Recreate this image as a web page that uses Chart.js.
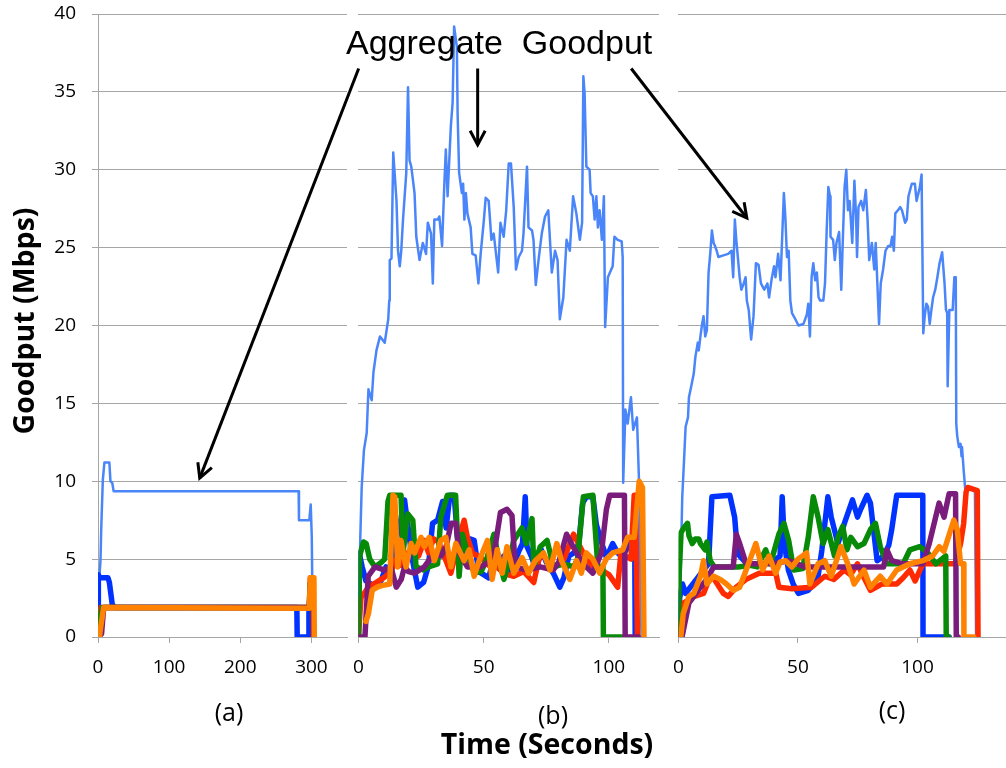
<!DOCTYPE html>
<html>
<head>
<meta charset="utf-8">
<style>
  body { margin: 0; width: 1006px; height: 768px; background: #fff; position: relative; overflow: hidden; }
  canvas { position: absolute; top: 0; }
  .lbl { position: absolute; white-space: pre; line-height: 1; color: #000; transform: translate(-50%, -50%); }
  .tick { font-family: "Open Sans"; font-size: 25px; }
  .title { font-family: "Open Sans"; font-weight: bold; font-size: 28.5px; }
  #callout { position: absolute; left: 346px; top: 25px; white-space: pre; line-height: 1; font-family: "Liberation Sans"; font-size: 34px; color: #000; }
  #arrows { position: absolute; left: 0; top: 0; }
</style>
</head>
<body>
<canvas id="panelA" width="350" height="700" style="left:0px"></canvas>
<canvas id="panelB" width="320" height="700" style="left:340px"></canvas>
<canvas id="panelC" width="346" height="700" style="left:660px"></canvas>
<svg id="arrows" width="1006" height="768"></svg>

<div id="callout">Aggregate  Goodput</div>
<div class="lbl title" style="left:22.5px; top:321px; transform:translate(-50%,-50%) rotate(-90deg)">Goodput (Mbps)</div>
<div class="lbl title" style="left:547px; top:743px">Time (Seconds)</div>
<div class="lbl tick" style="left:229px; top:711px">(a)</div>
<div class="lbl tick" style="left:553px; top:714px">(b)</div>
<div class="lbl tick" style="left:892px; top:709px">(c)</div>

<script src="https://cdn.jsdelivr.net/npm/chart.js@4"></script>
<script>
// [seconds, Mbps] samples per flow; "aggregate" is the sum line

// (a)
const aAggregate = [[0.5,0],[2,3.9],[3.5,4.9],[4.5,6.9],[6.8,10.1],[9,11.2],[16,11.2],[17.5,10],[20,9.9],[22,9.35],[282,9.35],[282.5,7.5],[297,7.5],[299,8.5],[300.5,6.4],[302,0]];
const aBlue = [[0,0],[0.5,4],[2,3.8],[14,3.8],[16,3.5],[20,2.1],[23,1.9],[279.5,1.9],[280,0],[296,0],[296.5,1.9],[299,1.9],[300,0]];
const aRed = [[1,0],[2,1],[4,1.9],[297,1.9],[298.5,3.8],[302,3.8],[303,0]];
const aGreen = [[0,0],[3,1.2],[6,1.9],[297,1.9],[298,3.4],[301,3.4],[302,0]];
const aPurple = [[0,0],[5,0.2],[8,1.9],[297,1.9],[299,3.6],[301,3.6],[302,0]];
const aOrange = [[2,0],[3,0.4],[5,1],[8,1.9],[297,1.85],[298.5,3.8],[303.5,3.8],[304,0]];

// (b)
const bAggregate = [[0,0],[0.5,5],[1.3,9.6],[2.2,12],[3.3,13.1],[4,15.9],[5.3,15.2],[6,17],[7.2,18.4],[8.6,19.3],[10.5,18.9],[11.9,20.4],[12.3,21.6],[12.5,24.2],[13.2,24.3],[13.9,31.1],[15.2,28],[15.8,24.8],[16.5,23.8],[17.1,24.8],[17.8,26.8],[19.1,29.8],[19.8,35.3],[20.4,30.6],[21.1,30.2],[22.4,28.5],[23.1,25.7],[24.4,24.2],[25.7,25.3],[27,24.6],[27.7,26.6],[29,25.9],[29.7,22.7],[30.3,26.8],[31.7,26.8],[32.3,27],[33.4,25.1],[34.3,29.1],[34.9,31.3],[35.6,28.3],[36.9,32.8],[37.6,34.3],[38.2,39.2],[39.3,37.9],[39.6,33.6],[40.2,29.8],[41.3,28.5],[41.8,29.1],[42.3,26.8],[42.9,28.5],[43.5,27.2],[44.8,26.3],[45.5,24.6],[46.8,24.5],[47.9,22.7],[48.8,24.6],[50.1,26.8],[50.8,28.2],[52,28],[53.1,25.5],[54,25.9],[55.8,23.4],[56.7,26.6],[58,25.7],[59,27.4],[60,30.4],[60.9,30.4],[62,27.6],[62.9,23.6],[64,24.4],[65.3,24.8],[65.9,25.9],[67.3,30.2],[67.9,26.3],[69.3,26.1],[69.9,25.5],[70.8,22.6],[71.9,24.2],[73.2,25.9],[74.5,27],[75.8,27.4],[77.2,23.4],[78.5,24.8],[79.5,24.2],[80.4,20.4],[81.8,21.8],[83.1,25.5],[84.4,24.8],[85.7,28.3],[87,27.2],[88.4,25.5],[89.3,26.6],[89.8,36],[90.3,34.9],[91,30.2],[92.3,30],[92.7,28.5],[93.6,28.3],[94.3,26.8],[95,28.3],[95.6,26.3],[96.3,27.4],[97.2,25.5],[98,28.3],[98.5,19.9],[99.6,23.1],[101.5,23.8],[102.2,25.7],[103.5,25.5],[105.1,25.4],[105.5,24.4],[105.7,9.9],[106.6,14.6],[107.5,13.7],[108.8,15.4],[109.7,13.3],[111.2,14.1],[112.1,9.6],[112.8,1.5],[113,0]];
const bBlue = [[0,0],[0.3,5.4],[1.5,4.5],[3,3.6],[6,3.3],[9,3.6],[11,4.5],[13,4.3],[15,6.2],[17,7.6],[18.4,8.8],[20,6.8],[21.5,5],[23.7,3.2],[26,3.5],[28,4.6],[29.6,7.3],[31.6,7.5],[33.6,8.7],[35,7],[36.5,9.1],[38.2,9.1],[39.5,6.5],[41,5.6],[43,5],[44.5,6.3],[46.2,6.2],[48,4.2],[50,4],[52,3.8],[54,5],[56,4.4],[58,5.2],[60,4],[62,4.6],[64,5.5],[65.5,6],[66.6,9],[67.3,5.8],[69,5.2],[71,4.3],[73,5.6],[75,4.8],[77.8,4.1],[80.4,3.2],[82,3.8],[84,5.2],[86,5.4],[88,6],[89.5,8.6],[91,9],[93.6,9],[95,7.2],[97.6,5.8],[99,5.1],[101.5,6],[103.5,5.4],[105,5.2],[107,5.6],[109,6.4],[110.3,6.4],[110.5,0]];
const bRed = [[0,0],[1,2.5],[4,3.2],[7,3.5],[10,3.8],[13,4.2],[15,5],[17,4.6],[19.8,5.4],[22,5.8],[24,5.2],[26.3,6.2],[28,5.4],[30,6.3],[32,6.1],[34,5.3],[36.9,4.1],[39,5.5],[41,6.8],[42.2,7.5],[43.5,6.4],[45.5,5.4],[48.8,5.1],[52,4.6],[55.4,4.5],[58,4.1],[62,3.9],[66,4.2],[70,3.5],[72.6,5.4],[75,5],[78,4.5],[82,5],[85.9,6.6],[88.5,5.8],[91,5],[94,4.5],[97,4.3],[100,4],[103.5,3.2],[104.8,5.4],[106.5,5.2],[108.8,5],[110.1,9.1],[110.7,9.1],[111.4,0]];
const bGreen = [[0,0],[0.5,5.2],[2,6.1],[3.1,6],[4.5,5],[6.6,4.5],[9.2,4.8],[10.5,5],[11.8,8.7],[12.5,9.1],[17,9.1],[17.8,5.4],[19.7,7.9],[21.7,7.5],[23,4.5],[26,4.3],[28,4.5],[31.6,4.7],[32.9,7.7],[35.5,9.1],[38.8,9.1],[40.2,3.9],[41.5,6.6],[43.5,5.4],[46.2,4.1],[49,4.2],[51,4.9],[54.1,6.6],[56,5],[58.1,3.7],[60,4.8],[62,6.2],[65.3,7],[67,6],[69.3,7.6],[70,4.5],[72.6,5.8],[75.3,6.2],[77.9,4.5],[82,4.7],[85.9,4.5],[87.5,5],[89.8,9],[93.6,9.1],[95.6,4.5],[97.6,4.5],[97.8,0],[106,0]];
const bPurple = [[0,0],[2.6,0],[3.9,3.9],[6.6,4.5],[10.5,4.3],[13,4.5],[15.1,3.2],[17.1,3.7],[18.4,4.5],[20,4.2],[22.4,4.1],[26.3,4.5],[30.3,5.4],[33,5.2],[35,5.8],[37,7.3],[38.9,7.3],[40.2,5.4],[43.5,4.5],[48.8,4.5],[52,4.8],[54,5.2],[56.7,8],[59.3,8.2],[61.3,7.8],[62.6,4.5],[67.3,4.3],[72.6,4.5],[77.8,4.3],[80,4.8],[83.1,6.6],[85.7,5.8],[89.7,4.7],[93.6,4.1],[97,5.4],[99,8.2],[100.3,9.1],[106.2,9.1],[106.5,0],[111.7,0]];
const bOrange = [[3,1],[4,1.5],[5.5,3],[7.5,3.2],[9.2,3.3],[12.5,3.4],[13.8,9.1],[14.5,9],[15.7,4.5],[17,6.2],[19,4.5],[21,6],[22.4,5.4],[25,6.4],[26.3,5.8],[28.3,6.4],[30.3,4.9],[32.9,6.2],[34.9,6.4],[36.9,4.5],[38.9,6],[42.2,4.9],[44.2,5.6],[46.2,3.9],[48.2,4.9],[51.5,6.2],[53.4,3.7],[55.4,5.6],[57.4,4.1],[59.3,5.8],[62,4.1],[65.3,5.1],[67.9,4.1],[70.6,4.9],[73.9,5.4],[76.5,4.3],[79.2,6],[81.1,4.9],[84.4,3.7],[87.1,4.9],[89,4.1],[91,5.4],[93.6,5],[96.3,4.1],[98.9,5],[101.5,5.4],[105.5,5.6],[107.5,6.4],[110.1,6.4],[112.1,10],[113.4,9.6],[114,0]];

// (c)
const cAggregate = [[0,0],[0.4,0.4],[1.6,9],[2.3,11.2],[3,13.5],[4,14.1],[4.4,15.4],[5.1,15.9],[6.4,16.9],[7.1,18],[8.1,18.9],[8.5,18.4],[9.2,19.3],[9.9,20.1],[10.5,20.6],[11.2,19.3],[11.9,19.7],[12.6,23.4],[13.3,24.6],[14,26.1],[14.7,25.3],[15.3,25.1],[16,24.8],[16.7,24.4],[18.8,24.5],[20.8,24.6],[22.2,24.8],[22.9,23.1],[23.6,26.8],[24.2,25.5],[25.6,23.1],[26.3,22.3],[27.3,22.7],[28.1,23.1],[28.6,21.6],[29.4,21],[30.4,19.1],[31.4,20.6],[32.4,24],[33.5,23.9],[34.5,22.7],[35.9,22.3],[37.2,22.7],[37.9,21.8],[38.9,22.9],[40,23.8],[40.6,23.1],[41.7,24.6],[42.7,22.9],[44.1,28.5],[44.7,27],[45.4,24.4],[46.1,24.8],[46.8,21.6],[47.5,20.8],[48.9,20.4],[50.2,20],[52.3,20.1],[53.7,20.7],[54.3,21.4],[55,19.3],[55.7,23.1],[56.4,24],[57.2,22.9],[57.9,23.4],[58.6,21.8],[59.3,21.6],[60.6,21.6],[61.3,22.7],[62,26.1],[62.7,28.9],[63.4,28.3],[63.6,25.7],[64.7,25.5],[65.4,24.2],[66.1,25.3],[67.2,26],[68.1,22.3],[68.8,25.7],[69.5,28.9],[70.2,30],[70.9,27.4],[71.6,28],[72.7,25.3],[73.6,29.3],[74.3,27],[74.7,24.4],[75.3,27.6],[76.4,28],[77.3,27.4],[78.4,28.7],[79.1,26.8],[79.8,24.2],[80.9,25.3],[81.9,23.6],[82.5,25.3],[83.2,22.7],[83.9,20.1],[84.6,22.7],[85.6,23.6],[86.6,24.8],[87.7,25.1],[88.7,25.1],[89.4,25.7],[90.1,24.8],[90.7,27.2],[91.8,27.4],[92.8,27.6],[93.5,27.4],[94.8,26.6],[95.5,26.8],[96.2,28.3],[96.9,28.7],[97.6,29.1],[98.9,29.1],[99.6,28],[101,28.9],[101.7,29.7],[102.4,19.5],[103,20.6],[103.7,21.4],[104.4,21.2],[105.1,20.1],[105.8,21],[106.5,21.8],[107.4,22.3],[108.3,23.1],[109.2,24],[110.3,24.7],[111.3,22.7],[111.9,21],[112.4,20.8],[112.6,16.1],[113.3,21],[114.7,21],[115.4,23.1],[116,23.1],[116.2,13.7],[116.6,12.9],[117.3,12.2],[118,12.4],[118.4,11.6],[118.6,12.2],[119.3,10.7],[120,9.4],[121,9.5],[124,9.5],[124.5,0]];
const cBlue = [[0,0],[0.5,2.5],[1.7,3.4],[3,2.8],[5,3.2],[8,3.8],[10,4.2],[12.6,4.7],[14,9],[21.5,9.1],[23.5,7.7],[24.2,6.4],[25.6,5.2],[28,4.8],[32,4.6],[36,4.7],[40,4.9],[42.5,5.2],[43.4,9],[44.3,6],[46,4.3],[48,3.4],[50.2,2.8],[54.3,3],[56,3.3],[58.4,3.9],[60,5.6],[62.5,9],[63.9,7.7],[66.7,6],[69.4,7.3],[72.8,8.8],[74.9,7.7],[76.5,8.3],[78.9,9.1],[80.3,8.6],[83.1,4.9],[85.8,5.2],[88,5.9],[89.2,6.9],[91.3,9.1],[102.2,9.1],[102.3,0],[113.2,0]];
const cRed = [[0,0],[2.3,2.2],[6.4,2.6],[10.5,2.8],[13.3,3.9],[15,3.7],[18.8,2.8],[20.8,2.6],[24.2,3.2],[28.3,3.7],[33.8,4.1],[40.7,4.1],[42,3.2],[47.5,3.1],[55.7,3.2],[61.2,3.9],[65,3.7],[69.4,4.3],[72,4],[74.9,4.7],[77,4],[80.3,3],[85,3.4],[91.3,3.4],[94,3.8],[96.8,4.3],[99,3.6],[102.2,4.7],[107.7,4.7],[115.9,4.7],[118,6],[119.3,7.3],[120.3,9.3],[121,9.6],[125,9.4],[125.3,0]];
const cGreen = [[0,0],[0.3,4],[1.1,6.7],[2.2,7],[3.8,7.3],[4.4,6.5],[5.8,6],[7.1,6.3],[8.5,6.3],[9.2,6],[11.2,5.6],[11.9,6.1],[13.3,4.9],[15,4.5],[25,4.5],[30,4.6],[33,4.5],[36.5,5.6],[38.5,4.7],[42,6.6],[44.1,7.3],[46.1,6.2],[48.2,4.3],[52,4.4],[54.3,6.4],[56.4,9],[58.4,7.7],[60.5,6],[62.5,6.9],[65.3,5.2],[66.7,6.4],[68.7,7.1],[70.5,5.6],[72.1,6.4],[74.9,5.8],[77.6,6],[80.3,6.9],[82.4,7.3],[84.4,5.8],[87.2,4.7],[94,4.7],[96.8,5.6],[100.9,5.8],[104.3,5.4],[107.7,4.7],[111.8,5.2],[112,0],[113,0]];
const cPurple = [[0,0],[1.5,0],[4.4,2.2],[6.4,2.6],[9.2,3.2],[11.9,3.7],[14.7,4.5],[22.9,4.5],[24.2,6.6],[25.6,6],[28.3,4.7],[40,4.7],[46.1,4.9],[52.9,4.5],[85.8,4.5],[87.2,5.6],[89.2,4.9],[94,4.7],[102.2,4.7],[104.9,6],[109,8.6],[111.1,7.7],[113.2,9.2],[115.9,9.2],[116.2,0],[117,0]];
const cOrange = [[1,0],[2,1.5],[4.4,2.6],[6.4,2.8],[9.2,3.9],[10.5,4.9],[11.9,3.4],[14.7,3.9],[17.5,3.7],[20.1,3.4],[22.9,3],[25.6,3.2],[28.3,4.3],[30,5],[32.4,6],[35.2,4.3],[37.9,5.2],[40.6,4.1],[42.5,4.8],[44.8,4.9],[47.5,4.5],[50,5],[53.6,5.4],[55,3.4],[58.4,4.7],[61.2,4.9],[63.9,3.9],[68,5.8],[70.8,4.7],[73.5,3.4],[77.6,4.3],[80.3,3.2],[84.4,3.9],[87.2,3.4],[91.3,4.3],[96.8,4.7],[102.2,4.9],[106.3,5.2],[109.1,5.8],[111,5.5],[115.2,7.5],[116.6,6.9],[118,4.7],[119.3,4.7],[119.4,0],[123.5,0]];

// annotation arrows, in data coordinates of a panel: [panel, seconds, Mbps]
const arrowSpecs = [
  { from: ['b', 0.1, 36.5], to: ['a', 143, 10.2] },
  { from: ['b', 47.6, 36.5], to: ['b', 47.6, 31.6] },
  { from: ['b', 108.9, 36.5], to: ['c', 28.6, 26.9] }
];

const gridColor = '#a6a6a6';
const tickFont = { family: 'Open Sans', size: 19 };

// drawing order: first entry at the bottom
function flows(agg, blue, red, green, purple, orange) {
  return [
    { pts: agg, color: '#4a86fa', width: 2.5 },
    { pts: blue, color: '#0033ff', width: 5.5 },
    { pts: red, color: '#ff2a00', width: 5.5 },
    { pts: green, color: '#078a07', width: 5.5 },
    { pts: purple, color: '#7a1c7c', width: 5.5 },
    { pts: orange, color: '#ff8200', width: 5.5 }
  ];
}

function buildPanel(id, cfg) {
  const list = cfg.series;
  const datasets = list.map((s, i) => ({
    data: s.pts.map(p => ({ x: p[0], y: p[1] })),
    borderColor: s.color,
    borderWidth: s.width,
    pointRadius: 0,
    tension: 0,
    fill: false,
    borderJoinStyle: 'round',
    borderCapStyle: 'round',
    order: list.length - i
  }));
  return new Chart(document.getElementById(id), {
    type: 'line',
    data: { datasets },
    options: {
      responsive: false,
      animation: false,
      events: [],
      layout: { padding: { left: cfg.padLeft, right: cfg.padRight, top: 14, bottom: 0 } },
      plugins: { legend: { display: false }, tooltip: { enabled: false } },
      scales: {
        x: {
          type: 'linear', min: 0, max: cfg.xMax,
          afterFit: s => { s.height = 63; },
          ticks: { stepSize: cfg.xStep, includeBounds: false, autoSkip: false, maxRotation: 0, padding: 13, color: '#000', font: tickFont },
          grid: { drawOnChartArea: false, drawTicks: true, tickLength: 6, color: gridColor },
          border: { display: true, color: gridColor }
        },
        y: {
          min: 0, max: 40,
          // fixed gutter; keep the label padding from pushing the plot down
          afterFit: s => { s.width = cfg.yWidth; s.paddingTop = 0; s.paddingBottom = 0; },
          ticks: { display: cfg.showY, stepSize: 5, padding: 16, color: '#000', font: tickFont },
          grid: { color: gridColor, drawTicks: cfg.showY, tickLength: 6 },
          border: { display: cfg.showY, color: gridColor }
        }
      }
    }
  });
}

const charts = {
  a: buildPanel('panelA', { series: flows(aAggregate, aBlue, aRed, aGreen, aPurple, aOrange), xMax: 350, xStep: 100, padLeft: 0, padRight: 3, yWidth: 98, showY: true }),
  b: buildPanel('panelB', { series: flows(bAggregate, bBlue, bRed, bGreen, bPurple, bOrange), xMax: 120, xStep: 50, padLeft: 17, padRight: 1, yWidth: 0, showY: false }),
  c: buildPanel('panelC', { series: flows(cAggregate, cBlue, cRed, cGreen, cPurple, cOrange), xMax: 137, xStep: 50, padLeft: 12, padRight: 0, yWidth: 0, showY: false })
};

// page position of a data point in one of the panels
function pagePoint(ref) {
  const chart = charts[ref[0]];
  return [chart.canvas.offsetLeft + chart.scales.x.getPixelForValue(ref[1]),
          chart.canvas.offsetTop + chart.scales.y.getPixelForValue(ref[2])];
}

const svg = document.getElementById('arrows');
const NS = 'http://www.w3.org/2000/svg';
arrowSpecs.forEach(a => {
  const [x1, y1] = pagePoint(a.from);
  const [x2, y2] = pagePoint(a.to);
  const len = Math.hypot(x2 - x1, y2 - y1);
  const bx = (x1 - x2) / len, by = (y1 - y2) / len;
  const head = 16, ang = 28 * Math.PI / 180;
  const c = Math.cos(ang), s = Math.sin(ang);
  const h1 = [x2 + head * (bx * c - by * s), y2 + head * (bx * s + by * c)];
  const h2 = [x2 + head * (bx * c + by * s), y2 + head * (-bx * s + by * c)];
  const line = document.createElementNS(NS, 'line');
  line.setAttribute('x1', x1); line.setAttribute('y1', y1);
  line.setAttribute('x2', x2); line.setAttribute('y2', y2);
  line.setAttribute('stroke', '#000'); line.setAttribute('stroke-width', 3);
  svg.appendChild(line);
  const tip = document.createElementNS(NS, 'polyline');
  tip.setAttribute('points', `${h1[0]},${h1[1]} ${x2},${y2} ${h2[0]},${h2[1]}`);
  tip.setAttribute('stroke', '#000'); tip.setAttribute('stroke-width', 3);
  tip.setAttribute('fill', 'none');
  svg.appendChild(tip);
});
</script>
</body>
</html>
